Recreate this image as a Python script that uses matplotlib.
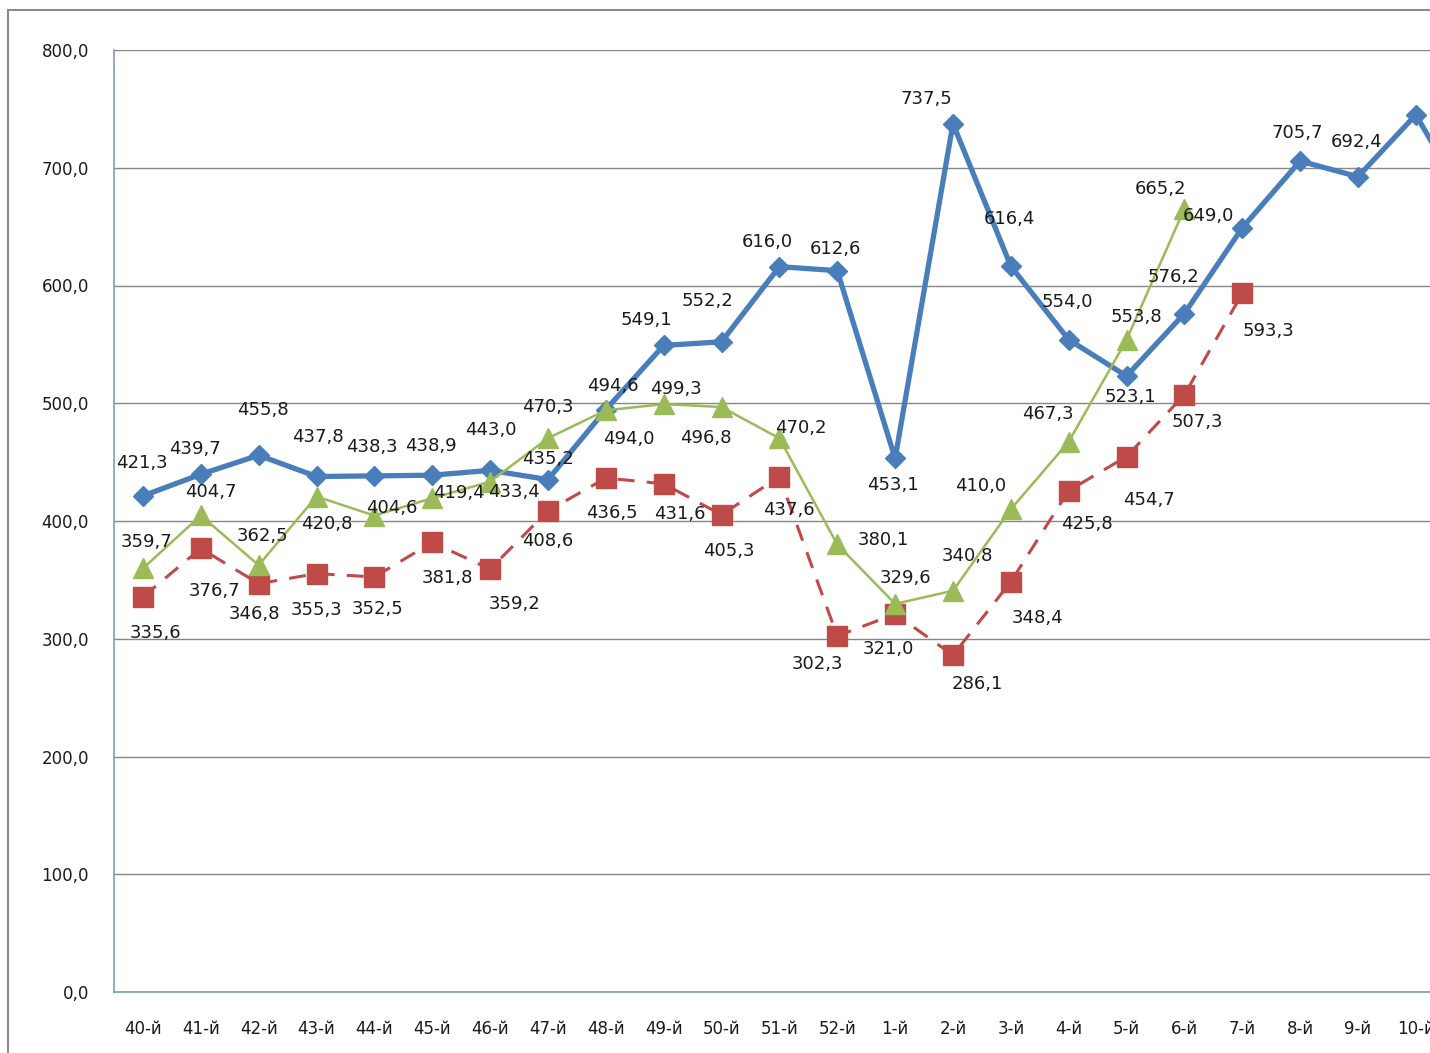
import numpy as np
import matplotlib.pyplot as plt
from matplotlib.lines import Line2D

# Weeks (the chart is cut at the right edge, 11-й is off-screen)
weeks = ['40-й', '41-й', '42-й', '43-й', '44-й', '45-й', '46-й', '47-й', '48-й',
         '49-й', '50-й', '51-й', '52-й', '1-й', '2-й', '3-й', '4-й', '5-й', '6-й',
         '7-й', '8-й', '9-й', '10-й', '11-й']

blue = [421.3, 439.7, 455.8, 437.8, 438.3, 438.9, 443.0, 435.2, 494.6, 549.1,
        552.2, 616.0, 612.6, 453.1, 737.5, 616.4, 554.0, 523.1, 576.2, 649.0,
        705.7, 692.4, 745.0, 660.0]
red = [335.6, 376.7, 346.8, 355.3, 352.5, 381.8, 359.2, 408.6, 436.5, 431.6,
       405.3, 437.6, 302.3, 321.0, 286.1, 348.4, 425.8, 454.7, 507.3, 593.3]
green = [359.7, 404.7, 362.5, 420.8, 404.6, 419.4, 433.4, 470.3, 494.0, 499.3,
         496.8, 470.2, 380.1, 329.6, 340.8, 410.0, 467.3, 553.8, 665.2]

# label offsets in pixels (dx, dy); the last blue point is off the picture
blue_off = [(-1, 33), (-6, 25), (4, 45), (1, 39), (-2, 29), (-1, 29), (1, 40),
            (0, 21), (7, 24), (-17, 25), (-14, 41), (-12, 25), (-2, 22), (-2, -27),
            (-27, 25), (-1, 47), (-1, 38), (4, -21), (-11, 37), (-34, 12), (-3, 28),
            (-1, 35), (40, 25)]
red_off = [(13, -36), (14, -43), (-4, -30), (0, -36), (3, -32), (15, -36), (24, -35),
           (0, -30), (6, -35), (16, -30), (7, -36), (9, -33), (-20, -28), (-7, -35),
           (24, -29), (27, -36), (18, -33), (22, -43), (13, -27), (26, -38)]
green_off = [(4, 26), (10, 23), (4, 29), (10, -27), (17, 8), (27, 5), (24, -10),
             (0, 31), (23, -29), (12, 15), (-16, -31), (21, 10), (46, 4), (10, 26),
             (14, 35), (-30, 23), (-21, 28), (10, 23), (-24, 20)]

fig = plt.figure(figsize=(14.3, 10.53), dpi=100)
ax = fig.add_axes([114 / 1430, 1 - 992 / 1053, 24 * 57.86 / 1430, 942 / 1053])

x = np.arange(len(weeks))
ax.plot(x[:len(blue)], blue, color='#4A7EBB', lw=3.8, marker='D', ms=10,
        zorder=3, solid_joinstyle='miter')
ax.plot(x[:len(red)], red, color='#BE4B48', lw=2.2, ls=(0, (5.5, 4)), marker='s',
        ms=14, zorder=4)
ax.plot(x[:len(green)], green, color='#9BBB59', lw=1.8, marker='^', ms=14, zorder=5)


def fmt(v):
    return f'{v:.1f}'.replace('.', ',')


for vals, offs in [(blue, blue_off), (red, red_off), (green, green_off)]:
    for i, off in enumerate(offs):
        ax.annotate(fmt(vals[i]), (x[i], vals[i]), xytext=off, textcoords='offset pixels',
                    ha='center', va='center', fontsize=13, color='#1a1a1a', zorder=6)

ax.set_xlim(-0.5, len(weeks) - 0.5)
ax.set_ylim(0, 800)
ax.set_yticks(np.arange(0, 801, 100))
ax.set_yticklabels([fmt(t) for t in np.arange(0, 801, 100)])
ax.set_xticks(x)
ax.set_xticklabels(weeks)
ax.tick_params(axis='both', length=0, labelsize=12, colors='#1a1a1a')
ax.tick_params(axis='y', pad=18)
ax.tick_params(axis='x', pad=20)
ax.grid(axis='y', color='#868686', lw=1.0)
ax.set_axisbelow(True)
for s in ['top', 'right']:
    ax.spines[s].set_visible(False)
ax.spines['left'].set_color('#7F9DB9')
ax.spines['bottom'].set_color('#7F9DB9')
ax.spines['left'].set_linewidth(1.2)
ax.spines['bottom'].set_linewidth(1.2)

# outer chart frame
fig.add_artist(Line2D([8 / 1430, 8 / 1430], [0, 1 - 10 / 1053], color='#8C8C8C', lw=1.5))
fig.add_artist(Line2D([8 / 1430, 1], [1 - 10 / 1053, 1 - 10 / 1053], color='#8C8C8C', lw=1.5))

fig.savefig('out.png', dpi=100)
